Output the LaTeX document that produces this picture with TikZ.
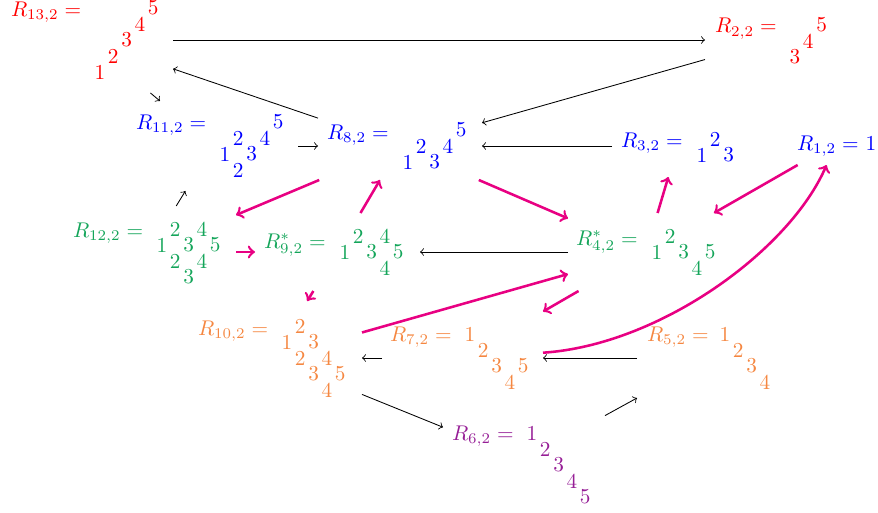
\documentclass[tikz,border=0pt]{standalone}
\definecolor{cgreen}{RGB}{20,165,90}
\definecolor{corange}{RGB}{245,135,65}
\definecolor{cpurple}{RGB}{150,30,150}
\definecolor{cpink}{RGB}{232,0,130}
\newcommand\vtx[5]{\node[vbox,minimum width={#4*0.94pt},minimum height={#5*0.94pt}] (#1) at (#2,#3) {};}
\newcommand\digs[5]{\foreach \c/\r/\d [count=\i] in {#5} \node[dig,text=#4] (#1-\i) at ({#2+13.3*(\c)},{#3+16*(\r)}) {\d};}
\begin{document}
\begin{tikzpicture}[x=0.47pt,y=-0.47pt,
  vbox/.style={draw=none,rectangle,inner sep=0pt,outer sep=0pt},
  dig/.style={inner sep=0pt,outer sep=0pt,anchor=center},
  lab/.style={inner sep=0pt,outer sep=0pt,anchor=base west},
  blk/.style={->,black,line width=0.4pt},
  pnk/.style={->,cpink,line width=1.2pt}]
\useasboundingbox (0,0) rectangle (878,513);
% vertex boxes
\vtx{R13}{88}{40}{85}{53}
\vtx{R2}{774}{40}{69}{30}
\vtx{R11}{213}{146}{85}{45}
\vtx{R8}{400}{146}{82}{34}
\vtx{R3}{677.5}{146}{65.5}{31}
\vtx{R1}{836}{143}{46}{22}
\vtx{R12}{148}{252}{88}{46}
\vtx{R9}{337.5}{252}{82.5}{39}
\vtx{R4}{646}{252}{78}{39}
\vtx{R10}{272}{358}{90}{57}
\vtx{R7}{462.5}{358}{80.5}{47}
\vtx{R5}{710}{358}{73}{45}
\vtx{R6}{524}{460}{81}{46}
% labels
\node[lab,text=red] (L13) at (11,16) {$R_{13,2} =$};
\node[lab,text=red] (L2) at (715,33) {$R_{2,2} =$};
\node[lab,text=blue] (L11) at (136,129) {$R_{11,2} =$};
\node[lab,text=blue] (L8) at (327,139) {$R_{8,2} =$};
\node[lab,text=blue] (L3) at (621,147) {$R_{3,2} =$};
\node[lab,text=blue] (L1) at (797,150) {$R_{1,2} =$};
\node[lab,text=cgreen] (L12) at (73,237) {$R_{12,2} =$};
\node[lab,text=cgreen] (L9) at (264,248) {$R^*_{9,2} =$};
\node[lab,text=cgreen] (L4) at (576,245) {$R^*_{4,2} =$};
\node[lab,text=corange] (L10) at (198,335) {$R_{10,2} =$};
\node[lab,text=corange] (L7) at (390,341) {$R_{7,2} =$};
\node[lab,text=corange] (L5) at (647,341) {$R_{5,2} =$};
\node[lab,text=cpurple] (L6) at (452,440) {$R_{6,2} =$};
% digit grids
\digs{D13}{100}{72}{red}{0/0/1,1/-1/2,2/-2/3,3/-3/4,4/-4/5}
\digs{D2}{795}{57}{red}{0/0/3,1/-1/4,2/-2/5}
\digs{D11}{225}{154}{blue}{0/0/1,1/-1/2,2/0/3,3/-1/4,4/-2/5,1/1/2}
\digs{D8}{408}{162}{blue}{0/0/1,1/-1/2,2/0/3,3/-1/4,4/-2/5}
\digs{D3}{702}{155}{blue}{0/0/1,1/-1/2,2/0/3}
\digs{D1}{871}{143}{blue}{0/0/1}
\digs{D12}{162}{245}{cgreen}{0/0/1,1/-1/2,2/0/3,3/-1/4,4/0/5,1/1/2,3/1/4,2/2/3}
\digs{D9}{345}{252}{cgreen}{0/0/1,1/-1/2,2/0/3,3/-1/4,4/0/5,3/1/4}
\digs{D4}{657}{252}{cgreen}{0/0/1,1/-1/2,2/0/3,3/1/4,4/0/5}
\digs{D10}{287}{342}{corange}{1/-1/2,0/0/1,2/0/3,1/1/2,3/1/4,2/2/3,4/2/5,3/3/4}
\digs{D7}{470}{334}{corange}{0/0/1,1/1/2,2/2/3,3/3/4,4/2/5}
\digs{D5}{725}{334}{corange}{0/0/1,1/1/2,2/2/3,3/3/4}
\digs{D6}{532}{433}{cpurple}{0/0/1,1/1/2,2/2/3,3/3/4,4/4/5}
% black edges
\draw[blk] (R13) -- (R2);
\draw[blk] (R8) -- (R13);
\draw[blk] (R13) -- (R11);
\draw[blk] (R12) -- (R11);
\draw[blk] (R11) -- (R8);
\draw[blk] (R2) -- (R8);
\draw[blk] (R3) -- (R8);
\draw[blk] (R4) -- (R9);
\draw[blk] (R7) -- (R10);
\draw[blk] (R10) -- (R6);
\draw[blk] (R6) -- (R5);
\draw[blk] (R5) -- (R7);
% pink edges
\draw[pnk] (R8) -- (R12);
\draw[pnk] (R12) -- (R9);
\draw[pnk] (R9) -- (R8);
\draw[pnk] (R8) -- (R4);
\draw[pnk] (R4) -- (R3);
\draw[pnk] (R1) -- (R4);
\draw[pnk] (R9) -- (R10);
\draw[pnk] (R10) -- (R4);
\draw[pnk] (R4) -- (R7);
\draw[pnk] (R7) .. controls (660,345) and (790,250) .. (R1);
\end{tikzpicture}
\end{document}
